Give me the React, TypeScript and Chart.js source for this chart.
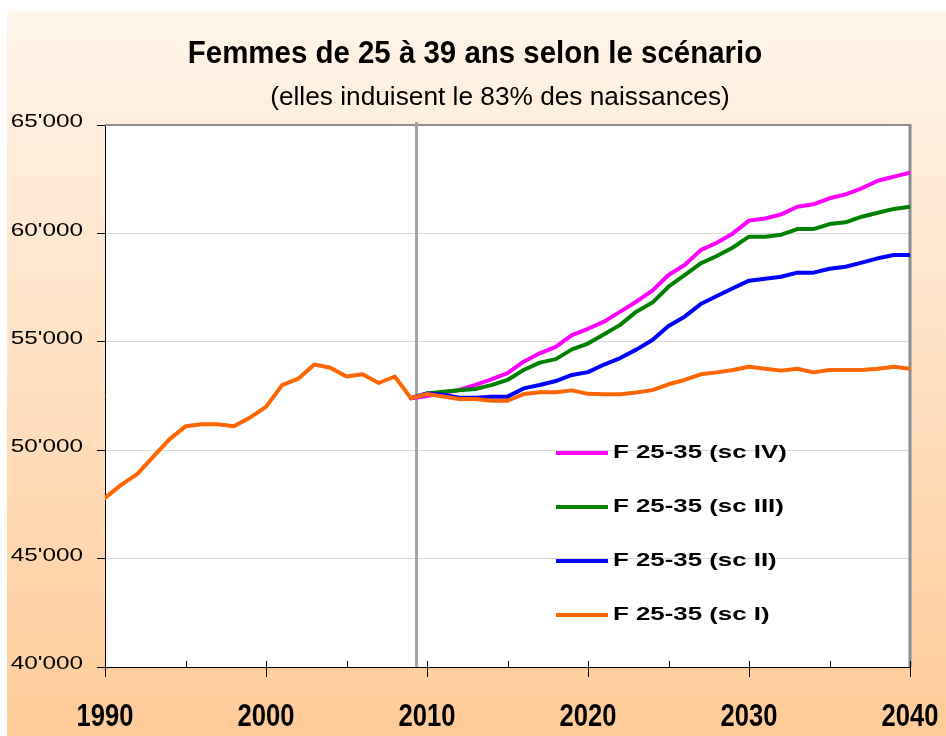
import React, { useEffect, useRef } from "react";
import { Chart, registerables } from "chart.js";

Chart.register(...registerables);

// ---------- data ----------
const HIST_YEARS = [1990, 1991, 1992, 1993, 1994, 1995, 1996, 1997, 1998, 1999, 2000, 2001, 2002, 2003, 2004, 2005, 2006, 2007, 2008, 2009];
const HIST_VALUES = [47800, 48400, 48900, 49700, 50500, 51100, 51200, 51200, 51100, 51500, 52000, 53000, 53300, 53950, 53800, 53400, 53500, 53100, 53400, 52400];

const PROJ_YEARS = [2009, 2010, 2011, 2012, 2013, 2014, 2015, 2016, 2017, 2018, 2019, 2020, 2021, 2022, 2023, 2024, 2025, 2026, 2027, 2028, 2029, 2030, 2031, 2032, 2033, 2034, 2035, 2036, 2037, 2038, 2039, 2040];
const SC_I = [52400, 52590, 52480, 52360, 52360, 52280, 52280, 52590, 52670, 52670, 52760, 52600, 52580, 52580, 52660, 52770, 53040, 53240, 53500, 53590, 53700, 53850, 53760, 53670, 53760, 53590, 53700, 53700, 53700, 53760, 53850, 53760];
const SC_II = [52400, 52620, 52560, 52420, 52420, 52470, 52470, 52850, 53010, 53190, 53470, 53600, 53950, 54250, 54640, 55080, 55730, 56160, 56740, 57110, 57470, 57820, 57910, 58000, 58190, 58190, 58370, 58460, 58650, 58850, 59000, 59000];
const SC_III = [52400, 52620, 52700, 52760, 52820, 53000, 53240, 53700, 54040, 54200, 54650, 54920, 55350, 55780, 56390, 56810, 57540, 58080, 58620, 58960, 59350, 59850, 59850, 59940, 60200, 60200, 60430, 60510, 60770, 60950, 61130, 61230];
const SC_IV = [52400, 52500, 52650, 52780, 53010, 53270, 53550, 54080, 54470, 54770, 55310, 55600, 55930, 56390, 56850, 57360, 58080, 58540, 59230, 59570, 60000, 60590, 60690, 60880, 61230, 61340, 61620, 61800, 62080, 62430, 62620, 62800];

const SERIES_LABELS = ["F 25-35 (sc I)", "F 25-35 (sc II)", "F 25-35 (sc III)", "F 25-35 (sc IV)"];

const X_TICK_LABELS = ["1990", "2000", "2010", "2020", "2030", "2040"];
const X_MINOR_TICKS = [1990, 1995, 2000, 2005, 2010, 2015, 2020, 2025, 2030, 2035, 2040];
const Y_TICK_VALUES = [40000, 45000, 50000, 55000, 60000, 65000];
const Y_TICK_LABELS = ["40'000", "45'000", "50'000", "55'000", "60'000", "65'000"];

const SEPARATOR_YEAR = 2009.35;

const TITLE = "Femmes de 25 à 39 ans selon le scénario";
const SUBTITLE = "(elles induisent le 83% des naissances)";

// ---------- styles ----------
const ORANGE = "#FF6600";
const BLUE = "#0000FF";
const GREEN = "#008000";
const MAGENTA = "#FF00FF";
const FONT = "'Liberation Sans', Arial, sans-serif";

function scaledText(
  ctx: CanvasRenderingContext2D,
  text: string,
  x: number,
  y: number,
  font: string,
  sx: number,
  align: CanvasTextAlign,
  baseline: CanvasTextBaseline
) {
  ctx.save();
  ctx.font = font;
  ctx.fillStyle = "#000";
  ctx.textAlign = align;
  ctx.textBaseline = baseline;
  ctx.translate(x, y);
  ctx.scale(sx, 1);
  ctx.fillText(text, 0, 0);
  ctx.restore();
}

const backgroundPlugin = {
  id: "bg",
  beforeDraw(chart: any) {
    const { ctx, width, height, chartArea } = chart;
    ctx.save();
    ctx.fillStyle = "#ffffff";
    ctx.fillRect(0, 0, width, height);
    const g = ctx.createLinearGradient(0, 11, 0, height);
    g.addColorStop(0, "#FEF4EA");
    g.addColorStop(0.5, "#FFE0C2");
    g.addColorStop(1, "#FFCB98");
    ctx.fillStyle = g;
    ctx.fillRect(7, 11, width - 7, height - 11);
    ctx.fillStyle = "#ffffff";
    ctx.fillRect(chartArea.left, chartArea.top, chartArea.right - chartArea.left, chartArea.bottom - chartArea.top);
    ctx.restore();
  },
};

const framePlugin = {
  id: "frame",
  beforeDatasetsDraw(chart: any) {
    const { ctx, chartArea, scales } = chart;
    const { left, right, top, bottom } = chartArea;
    ctx.save();
    ctx.strokeStyle = "#8c8c8c";
    ctx.lineWidth = 2;
    ctx.beginPath();
    ctx.moveTo(left, top);
    ctx.lineTo(right, top);
    ctx.stroke();
    ctx.lineWidth = 3;
    ctx.beginPath();
    ctx.moveTo(right, top - 1);
    ctx.lineTo(right, bottom);
    ctx.stroke();
    const sx = scales.x.getPixelForValue(SEPARATOR_YEAR);
    ctx.strokeStyle = "#a3a3a3";
    ctx.lineWidth = 3;
    ctx.beginPath();
    ctx.moveTo(sx, top - 3);
    ctx.lineTo(sx, bottom);
    ctx.stroke();
    ctx.strokeStyle = "#000";
    ctx.lineWidth = 1;
    for (const v of X_MINOR_TICKS) {
      const px = Math.round(scales.x.getPixelForValue(v)) + 0.5;
      ctx.beginPath();
      ctx.moveTo(px, bottom);
      ctx.lineTo(px, bottom - 6);
      ctx.stroke();
    }
    ctx.restore();
  },
};

// axis tick labels, positioned through the chart's own scales
const axisLabelPlugin = {
  id: "axisLabels",
  afterDraw(chart: any) {
    const { ctx, scales, chartArea } = chart;
    X_TICK_LABELS.forEach((l) => {
      const px = scales.x.getPixelForValue(Number(l));
      scaledText(ctx, l, px, chartArea.bottom + 50, `bold 32px ${FONT}`, 0.8, "center", "middle");
    });
    Y_TICK_VALUES.forEach((v, i) => {
      const py = scales.y.getPixelForValue(v);
      scaledText(ctx, Y_TICK_LABELS[i], chartArea.left - 22, py - 3, `19px ${FONT}`, 1.28, "right", "middle");
    });
  },
};

const legendPlugin = {
  id: "customLegend",
  afterDatasetsDraw(chart: any) {
    const { ctx } = chart;
    const order = [4, 3, 2, 1];
    const rows = [453, 507, 561, 615];
    order.forEach((di, i) => {
      const ds = chart.data.datasets[di];
      const y = rows[i];
      ctx.save();
      ctx.strokeStyle = ds.borderColor;
      ctx.lineWidth = 4;
      ctx.beginPath();
      ctx.moveTo(556, y);
      ctx.lineTo(608, y);
      ctx.stroke();
      ctx.restore();
      scaledText(ctx, ds.label, 613, y, `bold 19px ${FONT}`, 1.36, "left", "middle");
    });
  },
};

const titlePlugin = {
  id: "titles",
  afterDraw(chart: any) {
    const { ctx } = chart;
    scaledText(ctx, TITLE, 475, 63, `bold 32px ${FONT}`, 0.92, "center", "alphabetic");
    scaledText(ctx, SUBTITLE, 500, 105, `25px ${FONT}`, 1.05, "center", "alphabetic");
  },
};

function toPoints(xs: number[], ys: number[]) {
  return xs.map((x, i) => ({ x, y: ys[i] }));
}

export default function App() {
  const ref = useRef<HTMLCanvasElement | null>(null);

  useEffect(() => {
    if (!ref.current) return;
    const lineBase = { pointRadius: 0, borderWidth: 4, tension: 0, fill: false, borderJoinStyle: "round" as const, borderCapStyle: "round" as const };
    const chart = new Chart(ref.current, {
      type: "line",
      data: {
        datasets: [
          { ...lineBase, label: "Observé", data: toPoints(HIST_YEARS, HIST_VALUES), borderColor: ORANGE },
          { ...lineBase, label: SERIES_LABELS[0], data: toPoints(PROJ_YEARS, SC_I), borderColor: ORANGE },
          { ...lineBase, label: SERIES_LABELS[1], data: toPoints(PROJ_YEARS, SC_II), borderColor: BLUE },
          { ...lineBase, label: SERIES_LABELS[2], data: toPoints(PROJ_YEARS, SC_III), borderColor: GREEN },
          { ...lineBase, label: SERIES_LABELS[3], data: toPoints(PROJ_YEARS, SC_IV), borderColor: MAGENTA },
        ],
      },
      options: {
        responsive: false,
        animation: false,
        layout: { padding: { top: 125, left: 8, right: 36, bottom: 0 } },
        plugins: {
          legend: { display: false },
          tooltip: { enabled: false },
          title: { display: false },
        },
        scales: {
          x: {
            type: "linear",
            min: 1990,
            max: 2040,
            afterFit: (s: any) => {
              s.height = 69;
            },
            afterBuildTicks: (s: any) => {
              s.ticks = X_TICK_LABELS.map((l) => ({ value: Number(l) }));
            },
            ticks: { display: false },
            grid: { drawOnChartArea: false, tickLength: 10, tickColor: "#000", tickWidth: 1 },
            border: { color: "#000", width: 1 },
          },
          y: {
            min: 40000,
            max: 65000,
            afterFit: (s: any) => {
              s.width = 97;
            },
            afterBuildTicks: (s: any) => {
              s.ticks = Y_TICK_VALUES.map((v) => ({ value: v }));
            },
            ticks: { display: false },
            grid: {
              color: (c: any) => (c.tick && (c.tick.value === 40000 || c.tick.value === 65000) ? "rgba(0,0,0,0)" : "#d9d9d9"),
              tickColor: "#000",
              tickLength: 8,
              lineWidth: 1,
            },
            border: { color: "#000", width: 1 },
          },
        },
      } as any,
      plugins: [backgroundPlugin, framePlugin, legendPlugin, titlePlugin, axisLabelPlugin],
    });
    return () => chart.destroy();
  }, []);

  return (
    <div style={{ position: "absolute", left: 0, top: 0, width: 946, height: 736 }}>
      <canvas ref={ref} width={946} height={736} style={{ display: "block", width: 946, height: 736 }} />
    </div>
  );
}
